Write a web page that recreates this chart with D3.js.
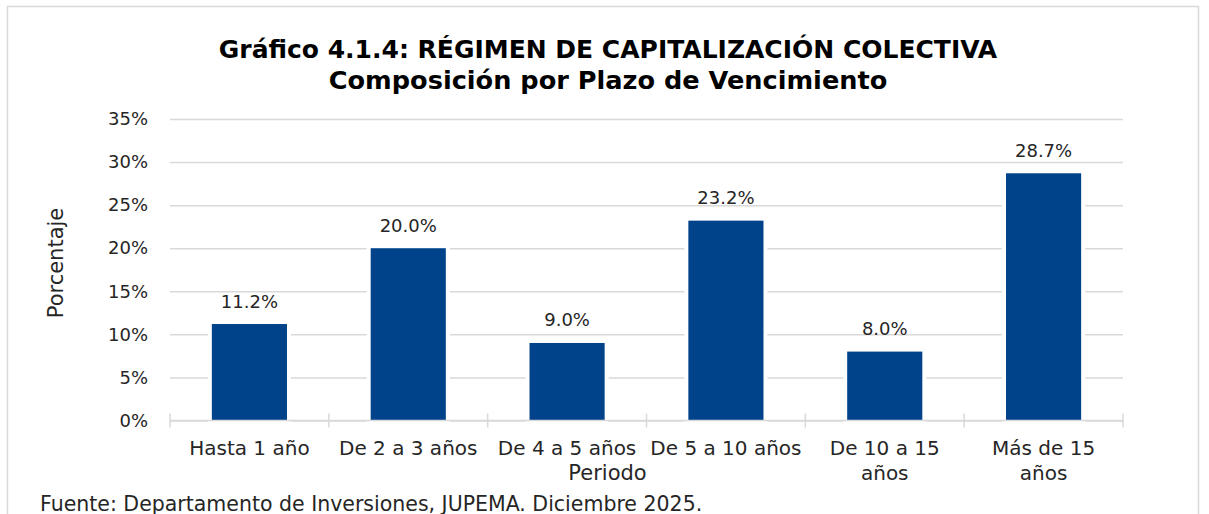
<!DOCTYPE html>
<html>
<head>
<meta charset="utf-8">
<script src="https://cdn.jsdelivr.net/npm/d3@7"></script>
<style>
  body { margin: 0; background: #fff; }
  svg text { font-family: "DejaVu Sans", sans-serif; fill: #262626; }
</style>
</head>
<body>
<div id="chart"></div>
<script>
// composicion por plazo de vencimiento
const categories = ["Hasta 1 año", "De 2 a 3 años", "De 4 a 5 años", "De 5 a 10 años", "De 10 a 15 años", "Más de 15 años"];
const tickLabels = [["Hasta 1 año"], ["De 2 a 3 años"], ["De 4 a 5 años"], ["De 5 a 10 años"], ["De 10 a 15", "años"], ["Más de 15", "años"]];
const values = [11.2, 20.0, 9.0, 23.2, 8.0, 28.7];
const yTicks = [0, 5, 10, 15, 20, 25, 30, 35];

var chart_width = 1209;
var chart_height = 514;
var plotLeft = 170, plotRight = 1123, plotTop = 119, plotBottom = 420.5;

let svg = d3.select('#chart')
    .append('svg')
    .attr('width', chart_width)
    .attr('height', chart_height)

// borde
svg.append('rect')
    .attr('x', 7.5).attr('y', 6.5)
    .attr('width', 1191).attr('height', 530)
    .attr('fill', 'none')
    .attr('stroke', '#d9d9d9')
    .attr('stroke-width', 1.5)

const x = d3.scaleBand()
    .domain(categories)
    .range([plotLeft, plotRight])
    .paddingInner(0.527)
    .paddingOuter(0.2635)

const y = d3.scaleLinear()
    .domain([0, 35])
    .range([plotBottom, plotTop])

// eje y + grid
const yAxis = svg.append('g')
    .attr('transform', 'translate(' + plotLeft + ',0)')
    .call(d3.axisLeft(y)
        .tickValues(yTicks)
        .tickFormat(d => d + '%')
        .tickSize(-(plotRight - plotLeft))
        .tickPadding(22))
yAxis.select('.domain').remove()
yAxis.selectAll('line')
    .attr('stroke', '#d9d9d9')
    .attr('stroke-width', 1.5)
yAxis.selectAll('text')
    .attr('font-size', 18)
    .style('fill', '#262626')
    .attr('font-family', '"DejaVu Sans", sans-serif')

// barras
svg.selectAll('rect.bar')
    .data(values)
    .enter()
    .append('rect')
    .attr('class', 'bar')
    .attr('x', (d, i) => x(categories[i]))
    .attr('width', x.bandwidth())
    .attr('y', d => y(d))
    .attr('height', d => y(0) - y(d))
    .attr('fill', '#00438a')
    .attr('stroke', '#fff')
    .attr('stroke-width', 8)
    .attr('paint-order', 'stroke')

// eje x
svg.append('line')
    .attr('x1', plotLeft).attr('x2', plotRight)
    .attr('y1', plotBottom).attr('y2', plotBottom)
    .attr('stroke', '#d9d9d9')
    .attr('stroke-width', 1.5)

svg.selectAll('line.xtick')
    .data(d3.range(categories.length + 1))
    .enter()
    .append('line')
    .attr('class', 'xtick')
    .attr('x1', i => plotLeft + i * x.step())
    .attr('x2', i => plotLeft + i * x.step())
    .attr('y1', plotBottom - 7)
    .attr('y2', plotBottom + 7)
    .attr('stroke', '#d9d9d9')
    .attr('stroke-width', 1.5)

// etiquetas de datos
svg.selectAll('text.val')
    .data(values)
    .enter()
    .append('text')
    .attr('class', 'val')
    .attr('x', (d, i) => x(categories[i]) + x.bandwidth() / 2)
    .attr('y', d => y(d) - 16.5)
    .attr('text-anchor', 'middle')
    .attr('font-size', 18)
    .text(d => d.toFixed(1) + '%')

// categorias
const cat = svg.selectAll('text.cat')
    .data(tickLabels)
    .enter()
    .append('text')
    .attr('class', 'cat')
    .attr('text-anchor', 'middle')
    .attr('font-size', 20)
cat.selectAll('tspan')
    .data((d, i) => d.map(t => ({ t: t, i: i })))
    .enter()
    .append('tspan')
    .attr('x', d => x(categories[d.i]) + x.bandwidth() / 2)
    .attr('y', (d, j) => 455 + j * 25)
    .text(d => d.t)

// titulos
svg.append('text')
    .attr('x', 608).attr('y', 57.5)
    .attr('text-anchor', 'middle')
    .attr('font-size', 25)
    .attr('font-weight', 'bold')
    .style('fill', '#000')
    .text('Gráfico 4.1.4: RÉGIMEN DE CAPITALIZACIÓN COLECTIVA')

svg.append('text')
    .attr('x', 608).attr('y', 88.5)
    .attr('text-anchor', 'middle')
    .attr('font-size', 25.6)
    .attr('font-weight', 'bold')
    .style('fill', '#000')
    .text('Composición por Plazo de Vencimiento')

svg.append('text')
    .attr('x', 607.5).attr('y', 480)
    .attr('text-anchor', 'middle')
    .attr('font-size', 21)
    .text('Periodo')

svg.append('text')
    .attr('transform', 'translate(63,263) rotate(-90)')
    .attr('text-anchor', 'middle')
    .attr('font-size', 21)
    .text('Porcentaje')

svg.append('text')
    .attr('x', 40).attr('y', 510.5)
    .attr('font-size', 20.5)
    .text('Fuente: Departamento de Inversiones, JUPEMA. Diciembre 2025.')
</script>
</body>
</html>
